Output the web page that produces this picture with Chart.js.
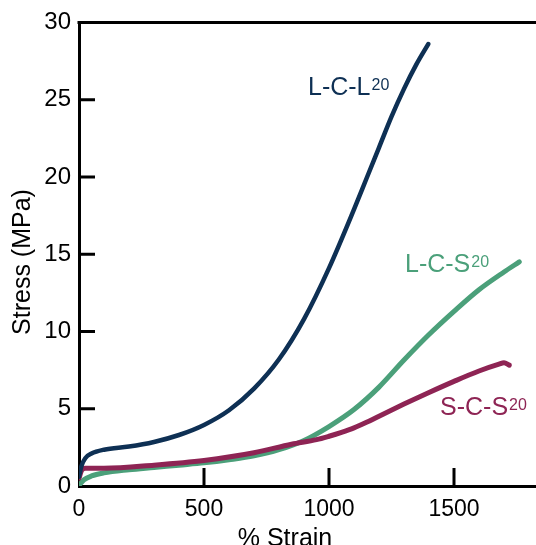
<!DOCTYPE html>
<html>
<head>
<meta charset="utf-8">
<script src="https://cdn.jsdelivr.net/npm/chart.js@4.4.0/dist/chart.umd.min.js"></script>
<style>
  html, body { margin: 0; padding: 0; background: #fff; }
  canvas { display: block; }
</style>
</head>
<body>
<canvas id="stressChart" width="536" height="545"></canvas>
<script>
  // tensile curves
  const lclStrain = [0, 10, 25, 50, 100, 200, 300, 400, 500, 600, 700, 800, 900, 1000, 1100, 1150, 1200, 1250, 1300, 1350, 1397];
  const lclStress = [0.6, 1.3, 1.8, 2.1, 2.35, 2.55, 2.85, 3.3, 3.95, 4.9, 6.3, 8.2, 10.8, 14.1, 17.9, 19.9, 21.9, 23.9, 25.7, 27.3, 28.6];

  const lcsStrain = [0, 20, 50, 100, 200, 300, 400, 500, 600, 700, 800, 900, 1000, 1100, 1200, 1300, 1400, 1500, 1600, 1700, 1761];
  const lcsStress = [0.05, 0.4, 0.65, 0.85, 1.05, 1.2, 1.35, 1.5, 1.7, 1.95, 2.35, 2.95, 3.85, 4.95, 6.4, 8.15, 9.8, 11.3, 12.7, 13.85, 14.5];

  const scsStrain = [0, 10, 25, 100, 300, 500, 700, 850, 950, 1000, 1050, 1100, 1150, 1200, 1300, 1400, 1500, 1600, 1680, 1700, 1721];
  const scsStress = [0.5, 1.0, 1.15, 1.15, 1.35, 1.65, 2.15, 2.7, 3.0, 3.22, 3.47, 3.76, 4.12, 4.52, 5.3, 6.05, 6.77, 7.44, 7.88, 7.97, 7.82];

  const xTicks = [0, 500, 1000, 1500];
  const yTicks = [0, 5, 10, 15, 20, 25, 30];

  const seriesNames = ['L-C-L', 'S-C-S', 'L-C-S'];
  const seriesSup = '20';

  const navy = 'rgb(14, 48, 84)';
  const maroon = 'rgb(142, 36, 84)';
  const green = 'rgb(75, 160, 122)';
  const fontFamily = '"Liberation Sans", Arial, sans-serif';

  const toPoints = (xs, ys) => xs.map((x, i) => ({ x: x, y: ys[i] }));

  // inward ticks, top frame line, axis titles and curve labels
  const decorations = {
    id: 'decorations',
    afterDraw(chart) {
      const ctx = chart.ctx;
      const xs = chart.scales.x;
      const ys = chart.scales.y;
      const area = chart.chartArea;
      ctx.save();
      ctx.strokeStyle = '#000';
      ctx.lineWidth = 3;
      ctx.beginPath();
      ctx.moveTo(area.left - 1.5, area.top);
      ctx.lineTo(chart.width, area.top);
      xTicks.slice(1).forEach(v => {
        const px = xs.getPixelForValue(v);
        ctx.moveTo(px, area.bottom);
        ctx.lineTo(px, area.bottom - 18);
      });
      yTicks.slice(1, -1).forEach(v => {
        const py = ys.getPixelForValue(v);
        ctx.moveTo(area.left, py);
        ctx.lineTo(area.left + 16, py);
      });
      ctx.stroke();

      ctx.fillStyle = '#000';
      ctx.font = '25px ' + fontFamily;
      ctx.textAlign = 'center';
      ctx.textBaseline = 'alphabetic';
      ctx.fillText('% Strain', 285, 546);
      ctx.save();
      ctx.translate(30, 262);
      ctx.rotate(-Math.PI / 2);
      ctx.fillText('Stress (MPa)', 0, 0);
      ctx.restore();

      const anchors = [[916, 25.32, navy], [1444, 4.59, maroon], [1304, 13.85, green]];
      ctx.textAlign = 'left';
      seriesNames.forEach((name, i) => {
        const px = xs.getPixelForValue(anchors[i][0]);
        const py = ys.getPixelForValue(anchors[i][1]);
        ctx.fillStyle = anchors[i][2];
        ctx.font = '25px ' + fontFamily;
        ctx.fillText(name, px, py);
        const w = ctx.measureText(name).width;
        ctx.font = '16px ' + fontFamily;
        ctx.fillText(seriesSup, px + w + 1, py - 5);
      });
      ctx.restore();
    }
  };

  Chart.defaults.font.family = fontFamily;

  const ctx1 = document.getElementById('stressChart').getContext('2d');
  const stressChart = new Chart(ctx1, {
    type: 'line',
    data: {
      datasets: [{
        label: seriesNames[0] + seriesSup,
        data: toPoints(lclStrain, lclStress),
        borderColor: navy,
        borderWidth: 4.5
      }, {
        label: seriesNames[1] + seriesSup,
        data: toPoints(scsStrain, scsStress),
        borderColor: maroon,
        borderWidth: 5
      }, {
        label: seriesNames[2] + seriesSup,
        data: toPoints(lcsStrain, lcsStress),
        borderColor: green,
        borderWidth: 5
      }]
    },
    options: {
      responsive: false,
      animation: false,
      layout: { padding: { top: 22, right: 0, left: 0, bottom: 0 } },
      elements: {
        point: { radius: 0 },
        line: { cubicInterpolationMode: 'monotone', fill: false, borderCapStyle: 'round' }
      },
      plugins: {
        legend: { display: false },
        tooltip: { enabled: false }
      },
      scales: {
        x: {
          type: 'linear',
          min: 0,
          max: 1828,
          afterBuildTicks: s => { s.ticks = xTicks.map(v => ({ value: v })); },
          afterFit: s => { s.height = 59; },
          grid: { display: false, drawTicks: false },
          border: { display: true, color: '#000', width: 3 },
          ticks: { color: '#000', font: { size: 23 }, padding: 10, maxRotation: 0, callback: v => String(v) }
        },
        y: {
          type: 'linear',
          min: 0,
          max: 30,
          afterBuildTicks: s => { s.ticks = yTicks.map(v => ({ value: v })); },
          afterFit: s => { s.width = 79; },
          grid: { display: false, drawTicks: false },
          border: { display: true, color: '#000', width: 3 },
          ticks: { color: '#000', font: { size: 24 }, padding: 8, callback: v => String(v) }
        }
      }
    },
    plugins: [decorations]
  });
</script>
</body>
</html>
